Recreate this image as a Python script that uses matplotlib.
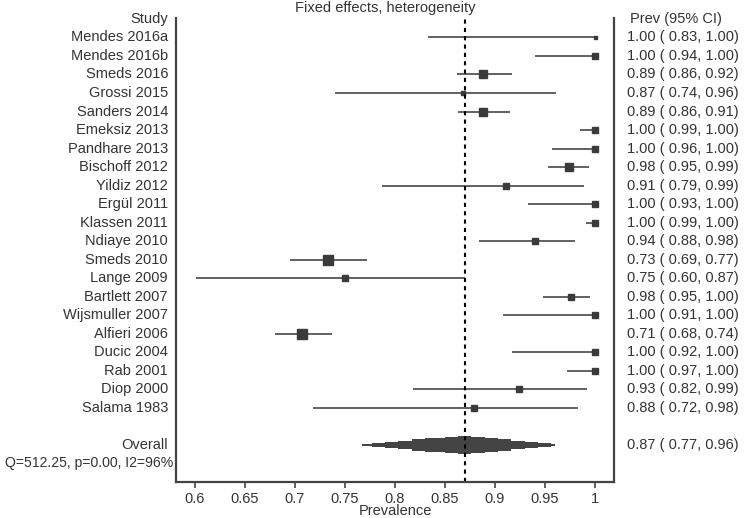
import matplotlib
matplotlib.use("Agg")
import matplotlib.pyplot as plt
import numpy as np

plt.rcParams["font.family"] = ["Liberation Sans", "DejaVu Sans"]

# Studies and their estimates
studies = ["Mendes 2016a", "Mendes 2016b", "Smeds 2016", "Grossi 2015", "Sanders 2014",
           "Emeksiz 2013", "Pandhare 2013", "Bischoff 2012", "Yildiz 2012", "Ergül 2011",
           "Klassen 2011", "Ndiaye 2010", "Smeds 2010", "Lange 2009", "Bartlett 2007",
           "Wijsmuller 2007", "Alfieri 2006", "Ducic 2004", "Rab 2001", "Diop 2000",
           "Salama 1983"]
prev = [1.00, 1.00, 0.888, 0.868, 0.888, 1.00, 1.00, 0.974, 0.911, 1.00,
        1.00, 0.940, 0.733, 0.750, 0.976, 1.00, 0.707, 1.00, 1.00, 0.924, 0.879]
lo = [0.833, 0.94, 0.862, 0.74, 0.863, 0.985, 0.957, 0.953, 0.787, 0.933,
      0.991, 0.884, 0.695, 0.601, 0.948, 0.908, 0.68, 0.917, 0.972, 0.818, 0.718]
hi = [1.00, 1.00, 0.917, 0.961, 0.915, 1.00, 1.00, 0.994, 0.989, 1.00,
      1.00, 0.980, 0.772, 0.870, 0.995, 1.00, 0.737, 1.00, 1.00, 0.992, 0.983]
# relative study weights (drawn as box width)
weights = [3.0, 5.5, 8.3, 4.5, 8.3, 5.5, 5.5, 7.3, 6.0, 5.5,
           5.5, 6.0, 9.3, 5.5, 6.0, 5.5, 10.7, 5.5, 5.5, 5.5, 5.5]
ci_text = ["1.00 ( 0.83, 1.00)", "1.00 ( 0.94, 1.00)", "0.89 ( 0.86, 0.92)",
           "0.87 ( 0.74, 0.96)", "0.89 ( 0.86, 0.91)", "1.00 ( 0.99, 1.00)",
           "1.00 ( 0.96, 1.00)", "0.98 ( 0.95, 0.99)", "0.91 ( 0.79, 0.99)",
           "1.00 ( 0.93, 1.00)", "1.00 ( 0.99, 1.00)", "0.94 ( 0.88, 0.98)",
           "0.73 ( 0.69, 0.77)", "0.75 ( 0.60, 0.87)", "0.98 ( 0.95, 1.00)",
           "1.00 ( 0.91, 1.00)", "0.71 ( 0.68, 0.74)", "1.00 ( 0.92, 1.00)",
           "1.00 ( 0.97, 1.00)", "0.93 ( 0.82, 0.99)", "0.88 ( 0.72, 0.98)"]

overall_est, overall_lo, overall_hi = 0.87, 0.767, 0.96
overall_text = "0.87 ( 0.77, 0.96)"
het_text = "Q=512.25, p=0.00, I2=96%"

line_col = "#555555"
box_col = "#3a3a3a"
txt_col = "#333333"
fs = 10.5

fig = plt.figure(figsize=(7.5, 5.18), dpi=100)
ax = fig.add_axes([176 / 750, 1 - 482 / 518, 438 / 750, 464 / 518])

rows = np.arange(len(studies))
for y, p, l, h, w in zip(rows, prev, lo, hi, weights):
    ax.plot([l, h], [y, y], color=line_col, lw=1.3, solid_capstyle="butt")
    ax.plot(p, y, marker="s", ms=w * 0.72, color=box_col, mec=box_col)

# overall estimate as a stepped diamond
y_ov = len(studies) + 1
xs = np.linspace(overall_lo, overall_hi, 30)
half = np.where(xs <= overall_est,
                (xs - overall_lo) / (overall_est - overall_lo),
                (overall_hi - xs) / (overall_hi - overall_est))
half = np.round(half * 7) / 7 * 0.42 + 0.06
ax.fill_between(xs, y_ov - half, y_ov + half, step="mid", color="#444444", lw=0)

ax.axvline(overall_est, color="black", lw=1.5, ls=(0, (2, 2)))

ax.set_xlim(0.581, 1.0195)
ax.set_ylim(24.0, -1.05)
ax.set_xticks(np.arange(0.6, 1.001, 0.05))
ax.set_xticklabels(["0.6", "0.65", "0.7", "0.75", "0.8", "0.85", "0.9", "0.95", "1"],
                   fontsize=fs, color=txt_col)
ax.set_yticks([])
ax.tick_params(axis="x", length=4, width=1.2, color="#444444", pad=3)
ax.set_xlabel("Prevalence", fontsize=fs, color=txt_col, labelpad=-1)
for s in ["left", "right", "bottom"]:
    ax.spines[s].set_color("#444444")
    ax.spines[s].set_linewidth(1.6)
ax.spines["top"].set_visible(False)

# left labels
tr_left = ax.get_yaxis_transform()
xl = -8 / 438
ax.text(xl, -1, "Study", ha="right", va="center", fontsize=fs, color=txt_col,
        transform=tr_left)
for y, s in zip(rows, studies):
    ax.text(xl, y, s, ha="right", va="center", fontsize=fs, color=txt_col,
            transform=tr_left)
ax.text(xl, y_ov, "Overall", ha="right", va="center", fontsize=fs, color=txt_col,
        transform=tr_left)
ax.text(-3 / 438, y_ov + 1, het_text, ha="right", va="center", fontsize=10.1,
        color=txt_col, transform=tr_left)

# right labels
xr = 1 + 13 / 438
ax.text(xr + 3 / 438, -1, "Prev (95% CI)", ha="left", va="center", fontsize=fs,
        color=txt_col, transform=tr_left)
for y, s in zip(rows, ci_text):
    ax.text(xr, y, s, ha="left", va="center", fontsize=fs, color=txt_col,
            transform=tr_left)
ax.text(xr, y_ov, overall_text, ha="left", va="center", fontsize=fs,
        color=txt_col, transform=tr_left)

fig.text(385.5 / 750, 1 - 8 / 518, "Fixed effects, heterogeneity", ha="center",
         va="center", fontsize=fs, color=txt_col)

fig.savefig("out.png", dpi=100)
